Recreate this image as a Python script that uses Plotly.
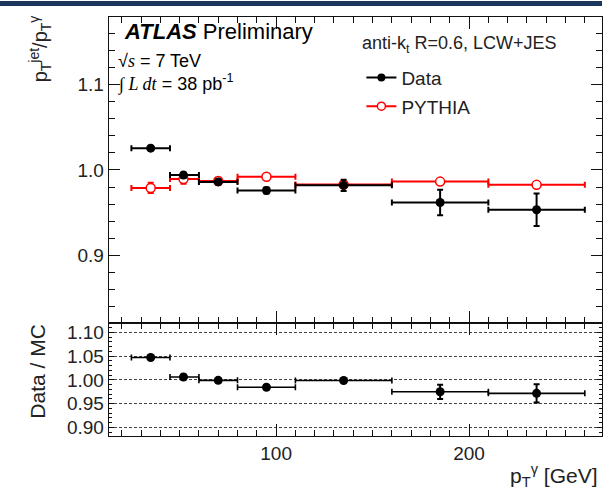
import plotly.graph_objects as go

# ---- data ----
bin_lo = [25, 45, 60, 80, 110, 160, 210]
bin_hi = [45, 60, 80, 110, 160, 210, 260]
pt_mean = [35, 52, 70, 95, 135, 185, 235]

data_resp = [1.0255, 0.994, 0.986, 0.976, 0.982, 0.962, 0.9535]
data_err = [0.002, 0.003, 0.003, 0.0035, 0.0065, 0.015, 0.019]

pythia_resp = [0.979, 0.9895, 0.987, 0.992, 0.983, 0.9864, 0.9826]
pythia_err = [0.006, 0.0055, 0.004, 0.002, 0.002, 0.002, 0.002]

ratio = [1.047, 1.006, 0.999, 0.9845, 0.9986, 0.975, 0.9717]
ratio_err = [0.002, 0.003, 0.002, 0.003, 0.003, 0.015, 0.019]

W, H = 603, 492


def px(x):
    return x / W


def py(y):
    return 1 - y / H


ex_plus = [h - c for h, c in zip(bin_hi, pt_mean)]
ex_minus = [c - l for l, c in zip(bin_lo, pt_mean)]

SANS = "Liberation Sans, Arial, Helvetica, sans-serif"
RED = "#ff0000"
INK = "#222"

fig = go.Figure()

# PYTHIA (main panel)
fig.add_trace(go.Scatter(
    x=pt_mean, y=pythia_resp, mode="markers", xaxis="x", yaxis="y",
    marker=dict(symbol="circle", size=9, color="white", line=dict(color=RED, width=1.5)),
    error_x=dict(type="data", symmetric=False, array=ex_plus, arrayminus=ex_minus,
                 color=RED, thickness=2, width=3),
    error_y=dict(type="data", array=pythia_err, color=RED, thickness=2, width=3),
    showlegend=False,
))
# Data (main panel)
fig.add_trace(go.Scatter(
    x=pt_mean, y=data_resp, mode="markers", xaxis="x", yaxis="y",
    marker=dict(symbol="circle", size=9, color="black"),
    error_x=dict(type="data", symmetric=False, array=ex_plus, arrayminus=ex_minus,
                 color="black", thickness=2, width=3),
    error_y=dict(type="data", array=data_err, color="black", thickness=2, width=3),
    showlegend=False,
))
# Ratio panel
fig.add_trace(go.Scatter(
    x=pt_mean, y=ratio, mode="markers", xaxis="x2", yaxis="y2",
    marker=dict(symbol="circle", size=9, color="black"),
    error_x=dict(type="data", symmetric=False, array=ex_plus, arrayminus=ex_minus,
                 color="black", thickness=1.6, width=3),
    error_y=dict(type="data", array=ratio_err, color="black", thickness=2, width=3),
    showlegend=False,
))

# legend entries
fig.add_trace(go.Scatter(
    x=[None], y=[None], mode="lines+markers", name="Data", xaxis="x", yaxis="y",
    line=dict(color="black", width=2), marker=dict(size=8, color="black"),
    legendgroup="a",
))
fig.add_trace(go.Scatter(
    x=[None], y=[None], mode="lines+markers", name="PYTHIA", xaxis="x", yaxis="y",
    line=dict(color=RED, width=2),
    marker=dict(size=8, color="white", line=dict(color=RED, width=1.5)),
    legendgroup="b",
))

xrange = [13.3, 268.9]
yrange_main = [0.821, 1.179]
yrange_ratio = [0.882, 1.1195]
xdom = [px(109), 1.0]
ydom_main = [py(324), py(16)]
ydom_ratio = [py(437.7), py(324)]

frame = dict(showline=True, linecolor="#111", linewidth=1.3, mirror="allticks",
             zeroline=False, ticks="inside", tickcolor="#111", tickwidth=1.2)


def minor(dt, ln):
    return dict(tickmode="linear", tick0=0, dtick=dt, ticklen=ln, ticks="inside",
                tickcolor="#111", tickwidth=1.1, showgrid=False)


fig.update_layout(
    width=W, height=H,
    margin=dict(l=0, r=0, t=0, b=0),
    paper_bgcolor="white", plot_bgcolor="white",
    font=dict(family=SANS, color=INK),
    xaxis=dict(domain=xdom, range=xrange, anchor="y", showticklabels=False,
               tickmode="linear", dtick=100, tick0=0, ticklen=12,
               minor=minor(10, 6), showgrid=False, **frame),
    yaxis=dict(domain=ydom_main, range=yrange_main, anchor="x",
               tickmode="linear", dtick=0.1, tick0=0, tickformat=".1f", ticklen=11,
               minor=minor(0.02, 6), showgrid=False,
               tickfont=dict(size=19, family=SANS, color=INK), **frame),
    xaxis2=dict(domain=xdom, range=xrange, anchor="y2",
                tickmode="linear", dtick=100, tick0=0, ticklen=12,
                minor=minor(10, 6), showgrid=False,
                tickfont=dict(size=19, family=SANS, color=INK), **frame),
    yaxis2=dict(domain=ydom_ratio, range=yrange_ratio, anchor="x2",
                tickmode="linear", dtick=0.05, tick0=0, tickformat=".2f", ticklen=5,
                minor=minor(0.01, 3),
                tickfont=dict(size=19, family=SANS, color=INK),
                showgrid=True, gridcolor="#444", gridwidth=1, griddash="3px,2px",
                **frame),
    legend=dict(x=px(362), y=py(58), xanchor="left", yanchor="top",
                bgcolor="rgba(0,0,0,0)", font=dict(size=19, family=SANS, color=INK),
                tracegroupgap=1),
    shapes=[dict(type="rect", xref="paper", yref="paper", x0=0, x1=1,
                 y0=py(5), y1=1, fillcolor="#1b365d", line=dict(width=0), layer="above")],
)

ann = [
    dict(text="<b><i>ATLAS</i></b> Preliminary", x=px(122), y=py(31),
         xanchor="left", yanchor="middle", font=dict(size=22, family=SANS, color="black")),
    dict(text="\u221a<span style=\"font-family:'Liberation Serif'\"><i>s</i></span> = 7 TeV",
         x=px(116), y=py(60), xanchor="left", yanchor="middle",
         font=dict(size=18, family=SANS, color="black")),
    dict(text="<span style=\"font-family:'Liberation Serif'\">\u222b <i>L dt</i></span> = 38 pb<sup>-1</sup>",
         x=px(116), y=py(83), xanchor="left", yanchor="middle",
         font=dict(size=18, family=SANS, color="black")),
    dict(text="anti-k<sub>t</sub> R=0.6, LCW+JES", x=px(361), y=py(44),
         xanchor="left", yanchor="middle", font=dict(size=18, family=SANS, color=INK)),
    dict(text="p<sub>T</sub><sup>jet</sup>/p<sub>T</sub><sup>\u03b3</sup>", x=px(40), y=py(12),
         xanchor="center", yanchor="top", textangle=-90,
         font=dict(size=20, family=SANS, color=INK)),
    dict(text="Data / MC", x=px(38), y=py(372), xanchor="center", yanchor="middle",
         textangle=-90, font=dict(size=21, family=SANS, color=INK)),
    dict(text="p<sub>T</sub><sup>\u03b3</sup> [GeV]", x=px(601), y=py(477),
         xanchor="right", yanchor="middle", font=dict(size=21, family=SANS, color=INK)),
]
for a in ann:
    a.update(xref="paper", yref="paper", showarrow=False)
fig.update_layout(annotations=ann)

fig.write_html("out.html")
